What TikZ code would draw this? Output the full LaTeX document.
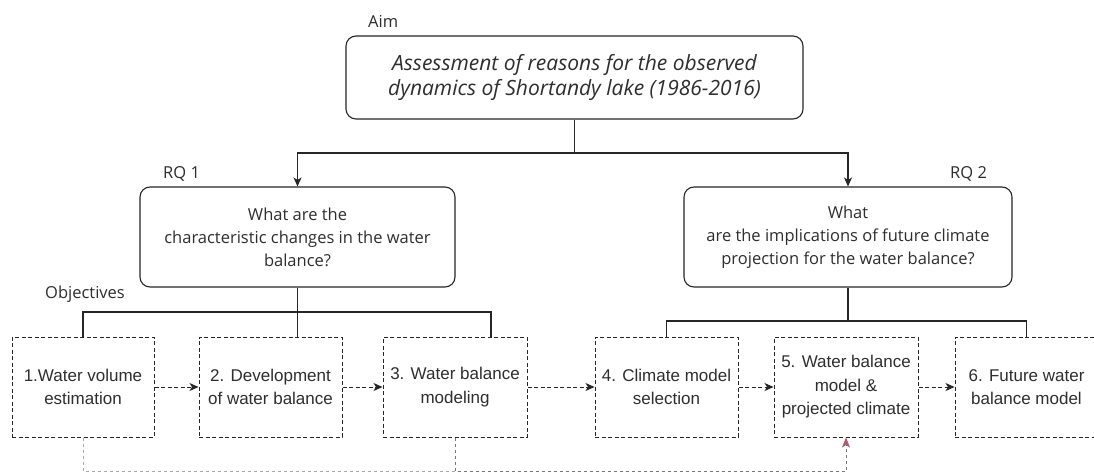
\documentclass[tikz,border=0pt]{standalone}
\usepackage{fontspec}
\setmainfont{Open Sans}
\newfontfamily\boxfont{Liberation Sans}
\usetikzlibrary{arrows.meta,calc}
\definecolor{txt}{HTML}{2E2E2E}
\definecolor{linec}{HTML}{262626}
\definecolor{rose}{HTML}{B05A6E}
\definecolor{lightg}{HTML}{A8A8A8}
\definecolor{darkg}{HTML}{777777}
\begin{document}
\begin{tikzpicture}[x=1pt,y=-1pt,
  topbox/.style={draw=linec, line width=1.1pt, rounded corners=10pt, align=center, text=txt, inner sep=0pt, font=\fontsize{16.5}{23}\selectfont},
  objbox/.style={draw=linec, line width=1pt, dash pattern=on 4pt off 2.5pt, minimum width=143pt, minimum height=100pt, align=center, text=txt, inner sep=0pt, font=\boxfont\fontsize{17}{23.5}\selectfont},
  lbl/.style={text=txt, font=\fontsize{16.5}{18}\selectfont, inner sep=0pt, anchor=base west},
  conn/.style={draw=linec, line width=1.1pt},
  dconn/.style={draw=linec, line width=1pt, dash pattern=on 4pt off 2.5pt},
  tip/.style={-{Stealth[length=9pt,width=8pt,inset=2.5pt]}}
]
\useasboundingbox (0,0) rectangle (1094,472);
\fill[white] (0,0) rectangle (1094,472);
\clip (0,0) rectangle (1094,472);

% labels
\node[lbl] (laim) at (368,27) {Aim};
\node[lbl] (lrq1) at (163,178) {RQ 1};
\node[lbl] (lrq2) at (950,178) {RQ 2};
\node[lbl] (lobj) at (45,298) {Objectives};

% top boxes
\node[topbox, minimum width=457pt, minimum height=83pt, font=\itshape\fontsize{21}{25}\selectfont] (aim) at (574.5,77.5)
  {Assessment of reasons for the observed\\dynamics of Shortandy lake (1986-2016)};
\node[topbox, minimum width=315pt, minimum height=100pt] (rq1) at (297.5,237)
  {What are the\\characteristic changes in the water\\balance?};
\node[topbox, minimum width=328pt, minimum height=100pt] (rq2) at (848,237)
  {What\\are the implications of future climate\\projection for the water balance?};

% objective boxes
\node[objbox, minimum width=142pt] (b1) at (83,387) {1.Water volume\\estimation};
\node[objbox] (b2) at (270.5,387) {2. Development\\of water balance};
\node[objbox, minimum width=144pt] (b3) at (455,387) {3. Water balance\\modeling};
\node[objbox] (b4) at (666.5,387) {4. Climate model\\selection};
\node[objbox, minimum width=144pt] (b5) at (846,387) {5. Water balance\\model \&\\projected climate};
\node[objbox] (b6) at (1026.5,387) {6. Future water\\balance model};

% connector points
\coordinate (j0) at (574.5,153);
\coordinate (j1) at (297.5,312);
\coordinate (j2) at (848,321);
\coordinate (b3in) at (491,337);
\coordinate (bot) at (83,471);
\coordinate (bot3) at (455,471);

% aim to RQs
\draw[conn] (aim.south) -- (j0);
\draw[conn, tip] (j0) -| (rq1.north);
\draw[conn, tip] (j0) -| (rq2.north);

% RQ1 to objectives
\draw[conn] (rq1.south) -- (rq1.south |- b2.north);
\draw[conn] (b1.north) |- (j1) -| (b3in);

% RQ2 to objectives
\draw[conn] (rq2.south) -- (j2);
\draw[conn] (b4.north) |- (j2) -| (b6.north);

% sequence arrows
\draw[dconn, tip] (b1.east) -- (b2.west);
\draw[dconn, tip] (b2.east) -- (b3.west);
\draw[dconn, tip] (b3.east) -- (b4.west);
\draw[dconn, tip] (b4.east) -- (b5.west);
\draw[dconn, tip] (b5.east) -- (b6.west);

% feedback lines
\draw[draw=lightg, line width=0.8pt, dash pattern=on 3pt off 3pt] (b1.south) -- (bot) -- (bot3);
\draw[draw=darkg, line width=0.9pt, dash pattern=on 3pt off 3pt,
  -{Stealth[length=10pt,width=8pt,inset=2.5pt,color=rose]}] (b3.south) -- (bot3) -| (b5.south);
\end{tikzpicture}
\end{document}
